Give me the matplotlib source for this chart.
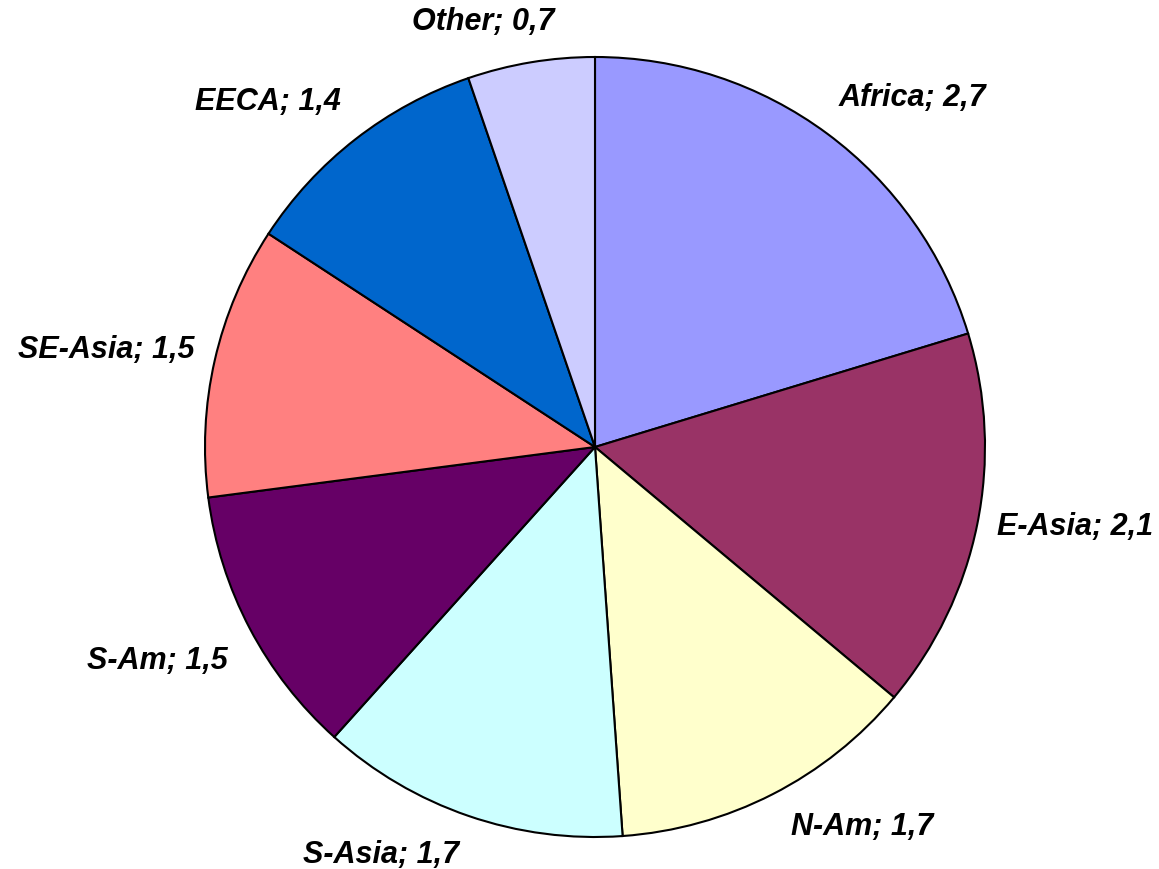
import matplotlib
matplotlib.use("Agg")
import matplotlib.pyplot as plt
import numpy as np

regions = ["Africa", "E-Asia", "N-Am", "S-Asia", "S-Am", "SE-Asia", "EECA", "Other"]
values = [2.7, 2.1, 1.7, 1.7, 1.5, 1.5, 1.4, 0.7]
colors = ["#9999FF", "#993366", "#FFFFCC", "#CCFFFF", "#660066", "#FF8080", "#0066CC", "#CCCCFF"]

# label layout (Excel-style placement around the pie)
label_dist = [1.21, 1.249, 1.192, 1.182, 1.249, 1.279, 1.218, 1.126]
label_shift = [-5.7, 2, 8, -8.7, -1.7, 1.6, 5.6, 5.3]

labels = [f"{r}; {str(v).replace('.', ',')}" for r, v in zip(regions, values)]

W, H = 1159, 869
CX, CY, R = 595, 422, 390
fig = plt.figure(figsize=(W / 100, H / 100), dpi=100)
ax = fig.add_axes([0, 0, 1, 1])

wedges, _ = ax.pie(values, colors=colors, startangle=90, counterclock=False,
                   center=(CX, CY), radius=R, frame=True,
                   wedgeprops={"edgecolor": "black", "linewidth": 1.5})

for w, lab, d, s in zip(wedges, labels, label_dist, label_shift):
    mid = np.deg2rad((w.theta1 + w.theta2) / 2 + s)
    ax.text(CX + d * R * np.cos(mid), CY + d * R * np.sin(mid), lab,
            ha="center", va="center", fontsize=22, fontweight="bold",
            fontstyle="italic", family="Liberation Sans")

ax.set_xlim(0, W); ax.set_ylim(0, H)
ax.set_aspect("equal")
ax.axis("off")

fig.savefig("out.png", dpi=100)
